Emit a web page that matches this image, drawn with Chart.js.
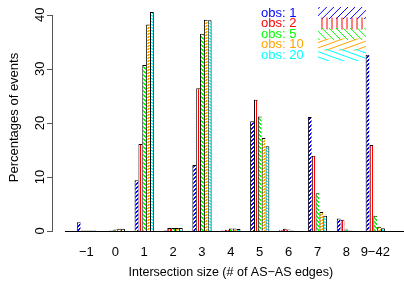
<!DOCTYPE html>
<html>
<head>
<meta charset="utf-8">
<script src="https://cdn.jsdelivr.net/npm/chart.js@4/dist/chart.umd.min.js"></script>
<style>
  html, body { margin: 0; padding: 0; background: #fff; }
  #wrap { width: 404px; height: 291px; }
</style>
</head>
<body>
<div id="wrap"><canvas id="chart" width="404" height="291"></canvas></div>
<script>
// intersection size categories and % of events per observation window
const categories = ['\u22121', '0', '1', '2', '3', '4', '5', '6', '7', '8', '9\u221242'];
const obs1  = [1.6, 0.05,  9.4, 0.1,  12.2, 0.1,  20.3, 0.15, 21.1, 2.3, 32.6];
const obs2  = [0.1, 0.1,  16.1, 0.55, 26.4, 0.25, 24.3, 0.4,  13.9, 2.1, 15.9];
const obs5  = [0.1, 0.3,  30.7, 0.55, 36.5, 0.45, 21.2, 0.3,   7.0, 0.3,  2.8];
const obs10 = [0.1, 0.4,  38.2, 0.55, 39.1, 0.45, 17.2, 0.1,   3.5, 0.1,  0.8];
const obs20 = [0.1, 0.4,  40.5, 0.55, 39.0, 0.35, 15.7, 0.05,  2.8, 0.05, 0.5];
const seriesLabels = ['obs: 1', 'obs: 2', 'obs: 5', 'obs: 10', 'obs: 20'];
const yTicks = [0, 10, 20, 30, 40];

const colors = ['#0000ff', '#ff0000', '#00ff00', '#ffa500', '#00ffff'];
const hatchKinds = ['/', '|', '\\', 'f', 'b'];   // f = flat '/', b = flat '\'
const legendAngles = [45, 90, 135, 20, 160];
const FONT = 'Liberation Sans, Arial, Helvetica, sans-serif';

// pixel hatch tiles, so that thin bars still show their colour
function hatch(color, kind) {
  const c = document.createElement('canvas');
  let w = 4, h = 4;
  if (kind === '|') { w = 2; h = 1; }
  if (kind === 'f' || kind === 'b') { w = 6; h = 3; }
  c.width = w; c.height = h;
  const g = c.getContext('2d');
  g.fillStyle = '#fff';
  g.fillRect(0, 0, w, h);
  g.fillStyle = color;
  for (let r = 0; r < h; r++) {
    if (kind === '|') g.fillRect(0, 0, 1, 1);
    else if (kind === '/') { g.fillRect((w - 1 - r) % w, r, 1, 1); g.fillRect((w - r) % w, r, 1, 1); }
    else if (kind === '\\') { g.fillRect(r, r, 1, 1); g.fillRect((r + 1) % w, r, 1, 1); }
    else {
      const start = kind === 'f' ? 2 * (h - 1 - r) : 2 * r;
      for (let k = 0; k < 3; k++) g.fillRect((start + k) % w, r, 1, 1);
    }
  }
  return g.createPattern(c, 'repeat');
}

const series = [obs1, obs2, obs5, obs10, obs20];
const datasets = series.map((data, i) => ({
  label: seriesLabels[i],
  data: data,
  backgroundColor: hatch(colors[i], hatchKinds[i]),
  borderColor: '#000',
  borderWidth: {top: 1, left: 1, right: i === series.length - 1 ? 1 : 0, bottom: 0},
  borderSkipped: 'start',
  categoryPercentage: 2 / 3,
  barPercentage: 1.0
}));

// R-like y axis (spine only from 0 to 40), baseline and hatched legend
const decorations = {
  id: 'decorations',
  afterDraw(chart) {
    const ctx = chart.ctx;
    const y = chart.scales.y;
    ctx.save();
    ctx.strokeStyle = '#000';
    ctx.lineWidth = 1;
    const y0 = Math.round(y.getPixelForValue(0));
    ctx.beginPath();
    ctx.moveTo(65, y0 + 0.5); ctx.lineTo(chart.width, y0 + 0.5);
    ctx.stroke();

    ctx.strokeStyle = '#555';
    const top = Math.round(y.getPixelForValue(yTicks[yTicks.length - 1]));
    ctx.beginPath();
    ctx.moveTo(52.5, top); ctx.lineTo(52.5, y0 + 1);
    for (const v of yTicks) {
      const p = Math.round(y.getPixelForValue(v)) + 0.5;
      ctx.moveTo(47, p); ctx.lineTo(53, p);
    }
    ctx.stroke();

    ctx.fillStyle = '#000';
    ctx.font = '13px ' + FONT;
    ctx.textAlign = 'center';
    ctx.textBaseline = 'middle';
    for (const v of yTicks) {
      ctx.save();
      ctx.translate(40, y.getPixelForValue(v));
      ctx.rotate(-Math.PI / 2);
      ctx.fillText(String(v), 0, 0);
      ctx.restore();
    }

    // legend
    ctx.textAlign = 'left';
    const rows = [13, 23.5, 34, 44.5, 55];
    seriesLabels.forEach((lab, i) => {
      ctx.fillStyle = colors[i];
      ctx.fillText(lab, 261, rows[i]);
      const x1 = 318, x2 = 366, y1 = rows[i] - 6, y2 = rows[i] + 6;
      ctx.save();
      ctx.beginPath();
      ctx.rect(x1, y1, x2 - x1, y2 - y1);
      ctx.clip();
      ctx.strokeStyle = colors[i];
      ctx.lineWidth = 1;
      const a = legendAngles[i] * Math.PI / 180;
      const dx = Math.cos(a), dy = -Math.sin(a);
      const nx = -dy, ny = dx;
      const cx = (x1 + x2) / 2, cy = (y1 + y2) / 2;
      ctx.beginPath();
      for (let k = -12; k <= 12; k++) {
        const px = cx + nx * k * 5, py = cy + ny * k * 5;
        ctx.moveTo(px - dx * 80, py - dy * 80);
        ctx.lineTo(px + dx * 80, py + dy * 80);
      }
      ctx.stroke();
      ctx.restore();
    });
    ctx.restore();
  }
};

new Chart(document.getElementById('chart'), {
  type: 'bar',
  data: {labels: categories, datasets: datasets},
  options: {
    responsive: false,
    animation: false,
    layout: {padding: {top: 4, right: 2, bottom: 0, left: 0}},
    plugins: {
      legend: {display: false},
      tooltip: {enabled: false}
    },
    scales: {
      x: {
        grid: {display: false, drawTicks: false},
        border: {display: false},
        ticks: {
          color: '#000', font: {family: FONT, size: 13},
          padding: 14, autoSkip: false, maxRotation: 0, minRotation: 0
        },
        title: {
          display: true, text: 'Intersection size (# of AS\u2212AS edges)',
          color: '#000', font: {family: FONT, size: 12.5},
          padding: {top: 0, bottom: 11}
        },
        afterFit(scale) { scale.height = 60; }
      },
      y: {
        min: 0, max: 42,
        grid: {display: false, drawTicks: false},
        border: {display: false},
        ticks: {display: false},
        title: {
          display: true, text: 'Percentages of events',
          color: '#000', font: {family: FONT, size: 13},
          padding: {top: 7, bottom: 0}
        },
        afterFit(scale) { scale.width = 72; }
      }
    }
  },
  plugins: [decorations]
});
</script>
</body>
</html>
